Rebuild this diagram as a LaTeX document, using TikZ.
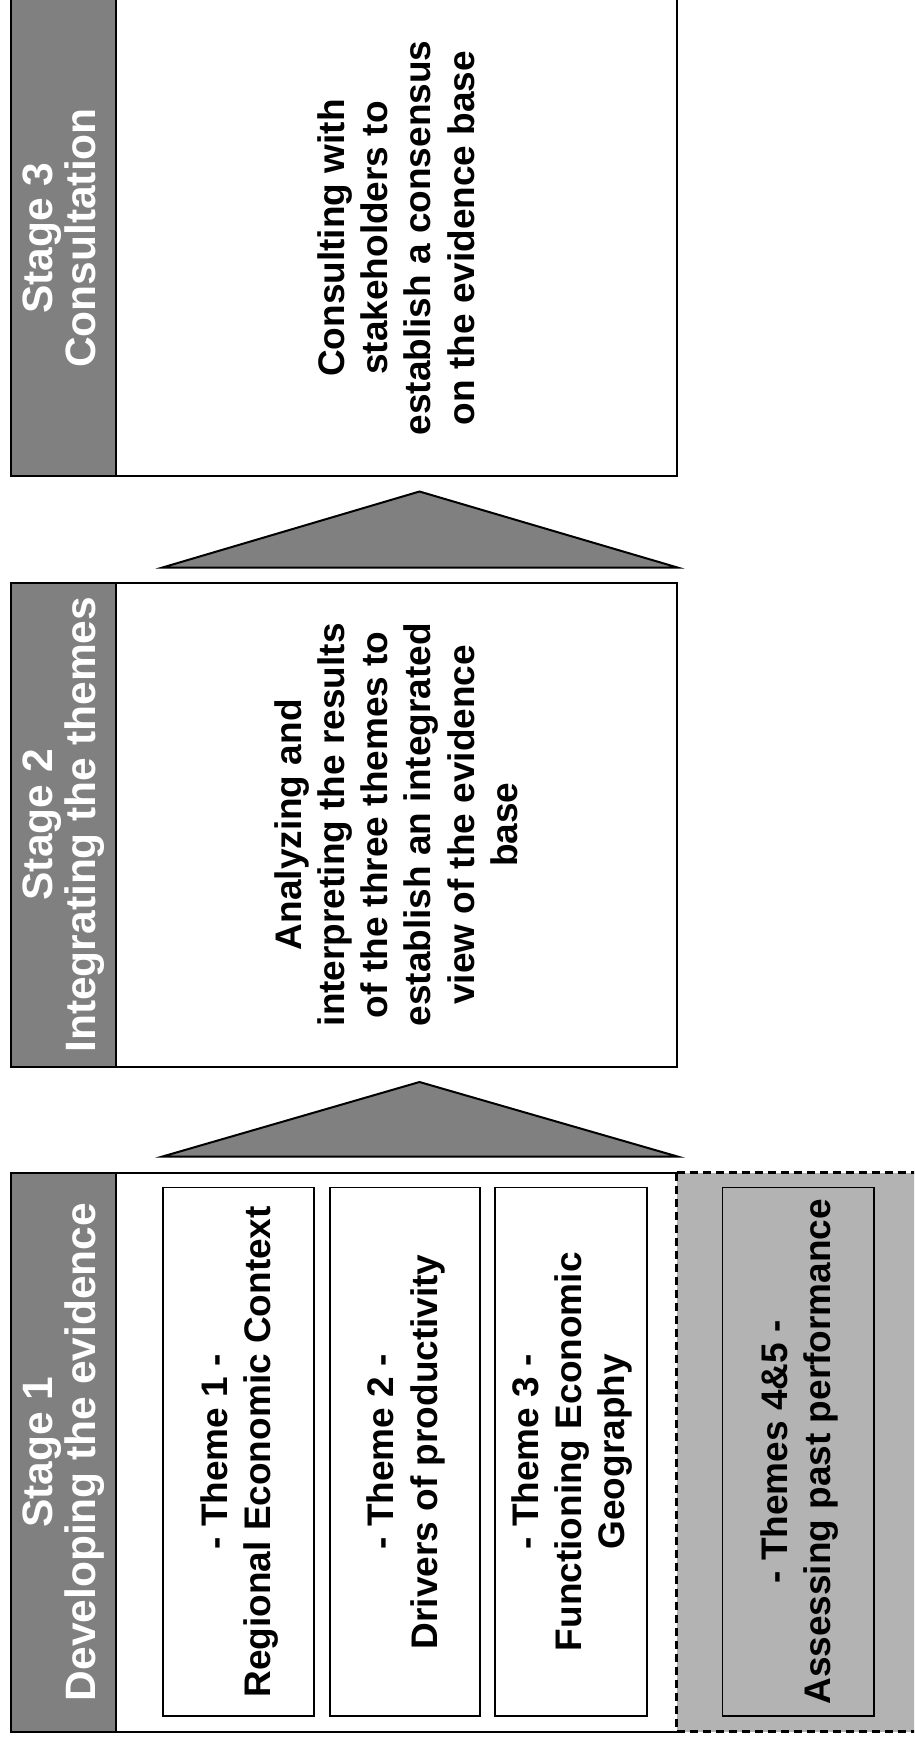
\documentclass[tikz,border=0pt]{standalone}
\usepackage{fontspec}
\setmainfont{Liberation Sans}
\definecolor{hgray}{RGB}{128,128,128}
\definecolor{lgray}{RGB}{179,179,179}
\begin{document}
\begin{tikzpicture}[x=1pt,y=-1pt,
  frame/.style={draw=black, line width=2pt},
  dashline/.style={draw=black, line width=2.2pt, dash pattern=on 8.5pt off 4.5pt},
  themebox/.style={draw=black, line width=1.6pt},
  tri/.style={draw=black, line width=2pt, fill=hgray, line join=miter},
  headtxt/.style={rotate=90, text=white, font=\fontsize{42.5}{43.5}\selectfont\bfseries, align=center, inner sep=0pt},
  bodytxt/.style={rotate=90, text=black, font=\fontsize{37}{43.2}\selectfont\bfseries, align=center, inner sep=0pt}
]
\useasboundingbox (0,0) rectangle (914,1745);
\clip (0,0) rectangle (914,1745);

% ---------- Stage 3 ----------
\coordinate (s3tl) at (11,-20);
\coordinate (s3br) at (676.5,476);
\fill[hgray] (11,-20) rectangle (116,476);
\draw[frame] (s3tl) rectangle (s3br);
\draw[frame] (116,-20) -- (116,476);
\node[headtxt] (h3) at (63.5,238) {Stage 3\\Consultation\vphantom{g}};
\node[bodytxt] (b3) at (396,238) {Consulting with\\stakeholders to\\establish a consensus\\on the evidence base};

% ---------- Triangle 1 ----------
\coordinate (t1l) at (162.5,567.5);
\coordinate (t1a) at (419.5,491.5);
\coordinate (t1r) at (677.5,567.5);
\draw[tri] (t1l) -- (t1a) -- (t1r) -- cycle;

% ---------- Stage 2 ----------
\coordinate (s2tl) at (11,582.5);
\coordinate (s2br) at (676.5,1067);
\fill[hgray] (11,582.5) rectangle (116,1067);
\draw[frame] (s2tl) rectangle (s2br);
\draw[frame] (116,582.5) -- (116,1067);
\node[headtxt] (h2) at (63.5,824.75) {Stage 2\\Integrating the themes};
\node[bodytxt] (b2) at (396,824.75) {Analyzing and\\interpreting the results\\of the three themes to\\establish an integrated\\view of the evidence\\base};

% ---------- Triangle 2 ----------
\coordinate (t2l) at (162.5,1156.5);
\coordinate (t2a) at (419.5,1082);
\coordinate (t2r) at (677.5,1156.5);
\draw[tri] (t2l) -- (t2a) -- (t2r) -- cycle;

% ---------- Stage 1 ----------
\fill[lgray] (676.5,1172.5) rectangle (930,1731.5);
\fill[hgray] (11,1172.5) rectangle (116,1731.5);
\draw[frame] (676.5,1172.5) -- (11,1172.5) -- (11,1731.5) -- (676.5,1731.5);
\draw[frame] (116,1172.5) -- (116,1731.5);
\draw[dashline] (676.5,1172.5) -- (930,1172.5);
\draw[dashline] (676.5,1731.5) -- (930,1731.5);
\draw[dashline] (676.5,1172.5) -- (676.5,1731.5);
\node[headtxt] (h1) at (63.5,1452) {Stage 1\\Developing the evidence};

\draw[themebox] (163,1187.5) rectangle (314,1716);
\draw[themebox] (330,1187.5) rectangle (480,1716);
\draw[themebox] (495,1187.5) rectangle (647,1716);
\draw[themebox, fill=lgray] (722.5,1187.5) rectangle (874,1716);

\node[bodytxt] (th1) at (239.5,1451.75) {- Theme 1 -\\Regional Economic Context};
\node[bodytxt] (th2) at (406,1451.75) {- Theme 2 -\\Drivers of productivity};
\node[bodytxt] (th3) at (572,1451.75) {- Theme 3 -\\Functioning Economic\\Geography};
\node[bodytxt] (th45) at (799.5,1451.75) {- Themes 4\&5 -\\Assessing past performance};
\end{tikzpicture}
\end{document}
